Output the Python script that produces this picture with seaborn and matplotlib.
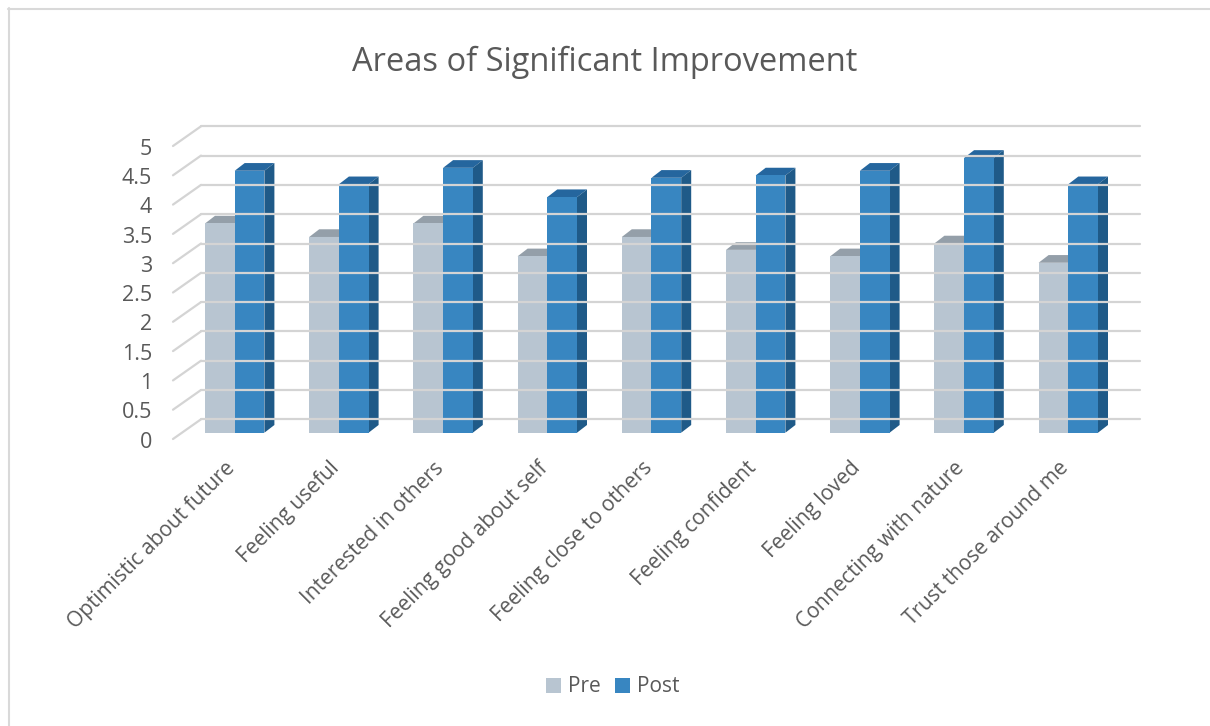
import numpy as np
import pandas as pd
import matplotlib
matplotlib.use("Agg")
import matplotlib.pyplot as plt
import matplotlib.transforms as mtransforms
from matplotlib.patches import Polygon
from matplotlib.lines import Line2D
import seaborn as sns

categories = ["Optimistic about future", "Feeling useful", "Interested in others",
              "Feeling good about self", "Feeling close to others", "Feeling confident",
              "Feeling loved", "Connecting with nature", "Trust those around me"]
pre_values = [3.57, 3.34, 3.57, 3.01, 3.34, 3.12, 3.01, 3.23, 2.90]
post_values = [4.47, 4.24, 4.52, 4.02, 4.35, 4.39, 4.47, 4.69, 4.24]
series_names = ["Pre", "Post"]
y_ticks = [0, 0.5, 1, 1.5, 2, 2.5, 3, 3.5, 4, 4.5, 5]
y_tick_labels = ["0", "0.5", "1", "1.5", "2", "2.5", "3", "3.5", "4", "4.5", "5"]
title = "Areas of Significant Improvement"

front_colors = ["#B8C5D1", "#3886C1"]
top_colors = ["#949FA9", "#25669E"]
side_colors = ["#8E99A3", "#1F5A88"]
text_color = "#595959"
grid_color = "#D4D4D4"

df = pd.DataFrame({
    "category": categories * 2,
    "score": pre_values + post_values,
    "phase": [series_names[0]] * len(categories) + [series_names[1]] * len(categories),
})

sns.set_theme(style="white")
plt.rcParams["font.family"] = ["Open Sans", "DejaVu Sans"]

W, H = 1210, 726
fig = plt.figure(figsize=(W / 100, H / 100), dpi=100)
ax = fig.add_axes([182.6 / W, (H - 432.7) / H, 937.8 / W, 293.0 / H])

sns.barplot(data=df, x="category", y="score", hue="phase", palette=front_colors,
            width=0.57, saturation=1, ax=ax, legend=True, zorder=3,
            edgecolor="none", linewidth=0)
ax.set_xlim(-0.5, len(categories) - 0.5)
ax.set_ylim(0, 5)

handles, labels = ax.get_legend_handles_labels()
ax.get_legend().remove()

# pixel -> data conversions
bbox = ax.get_window_extent()
px_x = (len(categories)) / bbox.width
px_y = 5.0 / bbox.height
bar_dx, bar_dy = 10 * px_x, 7.7 * px_y

for i, cont in enumerate(ax.containers):
    for p in cont.patches:
        x0 = p.get_x()
        w = p.get_width()
        h = p.get_height()
        x1 = x0 + w
        top = Polygon([(x0, h), (x1, h), (x1 + bar_dx, h + bar_dy), (x0 + bar_dx, h + bar_dy)],
                      closed=True, facecolor=top_colors[i], edgecolor="none",
                      zorder=2.5 + i, clip_on=False)
        ax.add_patch(top)
        side = Polygon([(x1, 0), (x1 + bar_dx, bar_dy), (x1 + bar_dx, h + bar_dy), (x1, h)],
                       closed=True, facecolor=side_colors[i], edgecolor="none",
                       zorder=2.5 + i, clip_on=False)
        ax.add_patch(side)
        p.set_zorder(3 + i)

# back wall gridlines + side wall diagonals (in pixel space)
fig.canvas.draw()
to_px = ax.transData
for v in y_ticks:
    _, yv = to_px.transform((0, v))
    yb = yv + 13.4
    yf = yv - 6.3
    fig.add_artist(Line2D([201 / W, 1140 / W], [yb / H, yb / H], color=grid_color,
                          lw=1.6, zorder=1))
    fig.add_artist(Line2D([173 / W, 201 / W], [yf / H, yb / H], color=grid_color,
                          lw=1.6, zorder=1))

ax.set_yticks(y_ticks)
ax.set_yticklabels(y_tick_labels)
ax.tick_params(axis="y", length=0, pad=22, labelsize=15.5, labelcolor=text_color)
for t in ax.yaxis.get_major_ticks():
    t.label1.set_transform(t.label1.get_transform() +
                           mtransforms.ScaledTranslation(0, -0.07, fig.dpi_scale_trans))

ax.tick_params(axis="x", length=0, pad=18, labelsize=15, labelcolor=text_color)
ax.set_xticks(range(len(categories)))
ax.set_xticklabels(categories, rotation=45, ha="right", va="top", rotation_mode="anchor")
for t in ax.xaxis.get_major_ticks():
    t.label1.set_transform(t.label1.get_transform() +
                           mtransforms.ScaledTranslation(-0.10, 0, fig.dpi_scale_trans))

ax.set_xlabel("")
ax.set_ylabel("")
for s in ax.spines.values():
    s.set_visible(False)
ax.patch.set_alpha(0)
ax.grid(False)

fig.text(0.5, 1 - 62 / H, title, ha="center", va="center", fontsize=23.5, color=text_color)

fig.legend(handles, labels, loc="center", bbox_to_anchor=(0.5 + 8 / W, 1 - 687 / H), ncol=2,
           frameon=False, fontsize=15, labelcolor=text_color, handlelength=0.7,
           handleheight=0.7, handletextpad=0.35, columnspacing=0.7)

# chart border (top and left visible)
fig.add_artist(Line2D([8 / W, 1.0], [1 - 8.5 / H, 1 - 8.5 / H], color="#D9D9D9", lw=1.5))
fig.add_artist(Line2D([8.5 / W, 8.5 / W], [0, 1 - 8 / H], color="#D9D9D9", lw=1.5))

fig.savefig("out.png", dpi=100, facecolor="white")
